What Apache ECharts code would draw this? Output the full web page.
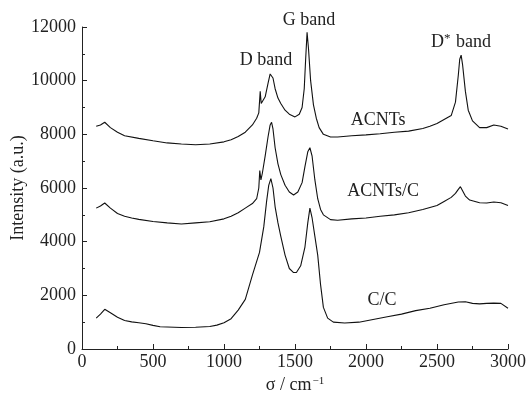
<!DOCTYPE html>
<html>
<head>
<meta charset="utf-8">
<script src="https://cdn.jsdelivr.net/npm/echarts@6/dist/echarts.min.js"></script>
<style>
  html, body { margin: 0; padding: 0; background: #fff; }
  #chart { width: 527px; height: 393px; }
</style>
</head>
<body>
<div id="chart"></div>
<script>
// Raman spectra (wavenumber cm-1, intensity a.u.)
const acntsX = [100,130,160,200,250,300,400,500,600,700,800,900,1000,1050,1100,1150,1200,1230,1245,1255,1262,1270,1290,1310,1325,1335,1345,1360,1380,1400,1430,1460,1500,1530,1550,1565,1575,1585,1595,1610,1630,1650,1670,1700,1750,1800,1900,2000,2100,2200,2300,2400,2450,2500,2550,2600,2630,2650,2660,2670,2680,2700,2720,2750,2800,2850,2900,2950,3000]
const acntsY = [8300,8350,8450,8250,8080,7950,7850,7760,7680,7640,7610,7640,7720,7800,7920,8080,8350,8600,8800,9600,9150,9100,9400,9900,10250,10300,10100,9700,9350,9150,8900,8750,8650,8750,9000,9700,10800,11800,11200,10000,9100,8600,8250,8000,7900,7900,7950,7980,8020,8080,8120,8220,8300,8400,8550,8700,9200,10200,10800,10950,10600,9600,8900,8500,8250,8250,8350,8300,8200]

const acntsCX = [100,130,160,200,250,300,350,400,500,600,700,800,900,1000,1050,1100,1150,1200,1230,1245,1252,1260,1270,1290,1310,1325,1335,1345,1360,1380,1400,1430,1460,1490,1520,1550,1570,1590,1605,1620,1640,1660,1680,1700,1750,1800,1900,2000,2100,2200,2300,2400,2500,2550,2600,2630,2650,2665,2680,2700,2730,2800,2850,2900,2950,3000]
const acntsCY = [5250,5330,5440,5250,5050,4950,4880,4830,4750,4700,4660,4700,4740,4850,4950,5080,5250,5420,5600,6000,6650,6300,6550,7200,7900,8350,8450,8200,7500,6900,6500,6100,5850,5740,5850,6200,6800,7350,7500,7200,6300,5600,5200,5000,4820,4800,4850,4880,4950,5000,5080,5200,5350,5500,5650,5800,5950,6050,5900,5700,5550,5450,5440,5480,5450,5350]

const ccX = [100,130,160,200,250,300,350,400,450,500,550,600,700,800,900,950,1000,1050,1100,1150,1200,1250,1280,1300,1315,1330,1345,1360,1380,1400,1430,1460,1490,1510,1540,1570,1590,1605,1620,1640,1660,1680,1700,1730,1770,1850,1950,2050,2150,2250,2350,2450,2550,2650,2700,2750,2800,2850,2900,2950,3000]
const ccY = [1150,1300,1480,1350,1180,1060,1010,980,940,880,830,820,800,810,840,890,980,1130,1450,1850,2750,3600,4550,5500,6100,6350,6000,5300,4700,4200,3500,3000,2850,2850,3100,3800,4700,5250,4900,4200,3500,2400,1550,1150,1000,970,1000,1100,1200,1300,1430,1520,1650,1750,1760,1700,1680,1700,1710,1700,1520]

// annotation texts and where they sit (data units)
const curveLabels = ['ACNTs', 'ACNTs/C', 'C/C']
const curveLabelPos = [[2085, 8535], [2120, 5889], [2113, 1826]]
const bandLabels = ['D band', 'G band', '{t|D}{s|*}{t| band}']
const bandLabelPos = [[1296, 10770], [1599, 11900], [2669, 11442]]
const bandLabelShift = [0, -9, 0]

const FONT = '"Liberation Serif", "DejaVu Serif", serif'

function pairs(xs, ys) {
  return xs.map((x, i) => [x, ys[i]])
}

const chart = echarts.init(document.getElementById('chart'))

const textStyle = { fontFamily: FONT, fontSize: 18, color: '#222' }

const markData = curveLabels.map((t, i) => ({ coord: curveLabelPos[i], value: t }))
  .concat(bandLabels.map((t, i) => ({
    coord: bandLabelPos[i],
    value: t,
    label: { offset: [0, bandLabelShift[i]] },
  })))

chart.setOption({
  animation: false,
  grid: { left: 82, right: 19, top: 27, bottom: 44, outerBoundsMode: 'none', containLabel: false },
  xAxis: {
    type: 'value',
    min: 0,
    max: 3000,
    interval: 500,
    name: '{n|σ / cm}{s|−1}',
    nameLocation: 'middle',
    nameGap: 27,
    nameMoveOverlap: false,
    nameTextStyle: {
      rich: {
        n: { fontFamily: FONT, fontSize: 18, color: '#222' },
        s: { fontFamily: FONT, fontSize: 11, color: '#222', verticalAlign: 'top', padding: [0, 0, 8, 1] },
      },
    },
    axisLine: { lineStyle: { color: '#222', width: 1 } },
    axisTick: { inside: true, length: 5, lineStyle: { color: '#222' } },
    minorTick: { show: true, splitNumber: 2, length: 3, lineStyle: { color: '#222' } },
    axisLabel: { margin: 4, formatter: (v) => String(v), ...textStyle },
    splitLine: { show: false },
  },
  yAxis: {
    type: 'value',
    min: 0,
    max: 12000,
    interval: 2000,
    name: 'Intensity (a.u.)',
    nameLocation: 'middle',
    nameGap: 55,
    nameMoveOverlap: false,
    nameTextStyle: textStyle,
    axisLine: { show: true, lineStyle: { color: '#222', width: 1 } },
    axisTick: { show: true, inside: true, length: 5, lineStyle: { color: '#222' } },
    minorTick: { show: true, splitNumber: 2, length: 3, lineStyle: { color: '#222' } },
    axisLabel: { margin: 6, formatter: (v) => String(v), ...textStyle },
    splitLine: { show: false },
  },
  series: [
    {
      name: 'ACNTs',
      type: 'line',
      data: pairs(acntsX, acntsY),
      showSymbol: false,
      lineStyle: { color: '#111', width: 1.1 },
      markPoint: {
        symbol: 'circle',
        symbolSize: 0,
        label: {
          show: true,
          position: 'inside',
          formatter: (p) => p.data.value,
          ...textStyle,
          rich: {
            t: { fontFamily: FONT, fontSize: 18, color: '#222' },
            s: { fontFamily: FONT, fontSize: 13, color: '#222', verticalAlign: 'top', padding: [0, 1, 6, 0] },
          },
        },
        data: markData,
      },
    },
    {
      name: 'ACNTs/C',
      type: 'line',
      data: pairs(acntsCX, acntsCY),
      showSymbol: false,
      lineStyle: { color: '#111', width: 1.1 },
    },
    {
      name: 'C/C',
      type: 'line',
      data: pairs(ccX, ccY),
      showSymbol: false,
      lineStyle: { color: '#111', width: 1.1 },
    },
  ],
})
</script>
</body>
</html>
